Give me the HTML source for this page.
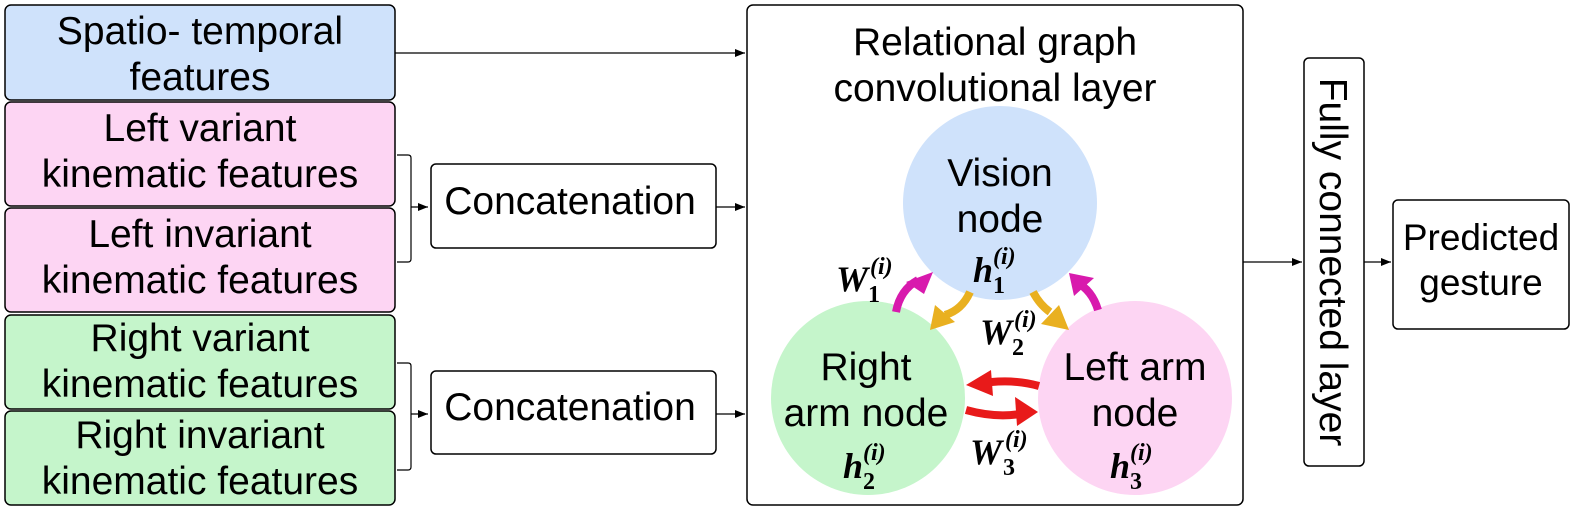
<!DOCTYPE html>
<html><head><meta charset="utf-8"><style>
html,body{margin:0;padding:0;background:#fff}
svg{display:block}
text{font-family:"Liberation Sans",sans-serif;font-size:39px;fill:#000}
.m{font-family:"Liberation Serif",serif;font-weight:bold;font-style:italic;font-size:36px}
.s{font-family:"Liberation Serif",serif;font-weight:bold;font-size:24px}
.si{font-family:"Liberation Serif",serif;font-weight:bold;font-style:italic;font-size:24px}
</style></head><body>
<svg width="1578" height="517" viewBox="0 0 1578 517" xmlns="http://www.w3.org/2000/svg">
<defs>
<marker id="a" markerWidth="10" markerHeight="8" refX="10" refY="4" orient="auto" markerUnits="userSpaceOnUse"><path d="M0,0 L10,4 L0,8z" fill="#000"/></marker>
</defs>
<g stroke="#000" stroke-width="1.5">
<rect x="5" y="5" width="390" height="95" rx="6" fill="#cfe2fb"/>
<rect x="5" y="102" width="390" height="104" rx="6" fill="#fdd5f3"/>
<rect x="5" y="208" width="390" height="104" rx="6" fill="#fdd5f3"/>
<rect x="5" y="315" width="390" height="94" rx="6" fill="#c5f5cb"/>
<rect x="5" y="411" width="390" height="94" rx="6" fill="#c5f5cb"/>
<rect x="431" y="164" width="285" height="84" rx="5" fill="#fff"/>
<rect x="431" y="371" width="285" height="83" rx="5" fill="#fff"/>
<rect x="747" y="5" width="496" height="500" rx="6" fill="#fff"/>
<rect x="1304" y="58" width="60" height="408" rx="5" fill="#fff"/>
<rect x="1393" y="200" width="176" height="129" rx="5" fill="#fff"/>
<g fill="none" stroke-width="1.2">
<path d="M397,155 H408 Q411,155 411,158 V259 Q411,262 408,262 H397"/>
<path d="M397,363 H408 Q411,363 411,366 V467 Q411,470 408,470 H397"/>
<path d="M411,207 H428" marker-end="url(#a)"/>
<path d="M411,414 H428" marker-end="url(#a)"/>
<path d="M716,207 H745" marker-end="url(#a)"/>
<path d="M716,414 H745" marker-end="url(#a)"/>
<path d="M395,53 H745" marker-end="url(#a)"/>
<path d="M1243,262 H1302" marker-end="url(#a)"/>
<path d="M1364,262 H1391" marker-end="url(#a)"/>
</g>
</g>
<circle cx="1000" cy="203" r="97" fill="#cfe2fb"/>
<circle cx="868" cy="398" r="97" fill="#c5f5cb"/>
<circle cx="1135" cy="398" r="97" fill="#fdd5f3"/>
<g fill="none" stroke-width="8">
<path d="M896,312 Q900,290 918,280" stroke="#d81aad"/>
<path d="M1098,310 Q1092,290 1076,282" stroke="#d81aad"/>
<path d="M970,292 Q962,310 945,315" stroke="#e9b020"/>
<path d="M1033,292 Q1040,305 1050,312" stroke="#e9b020"/>
<path d="M1039,386 Q1010,378 978,384" stroke="#e81a1a"/>
<path d="M966,410 Q995,418 1020,414" stroke="#e81a1a"/>
</g>
<path d="M933,272 L924,294 L906,282z" fill="#d81aad"/>
<path d="M1069,273 L1094,278 L1074,296z" fill="#d81aad"/>
<path d="M930,330 L935,305 L955,322z" fill="#e9b020"/>
<path d="M1069,330 L1041,324 L1059,305z" fill="#e9b020"/>
<path d="M966,385 L991,370 L993,396z" fill="#e81a1a"/>
<path d="M1038,412 L1015,397 L1017,426z" fill="#e81a1a"/>
<g text-anchor="middle">
<text x="200" y="44">Spatio- temporal</text>
<text x="200" y="90">features</text>
<text x="200" y="141">Left variant</text>
<text x="200" y="187">kinematic features</text>
<text x="200" y="247">Left invariant</text>
<text x="200" y="293">kinematic features</text>
<text x="200" y="351">Right variant</text>
<text x="200" y="397">kinematic features</text>
<text x="200" y="448">Right invariant</text>
<text x="200" y="494">kinematic features</text>
<text x="570" y="214">Concatenation</text>
<text x="570" y="420">Concatenation</text>
<text x="995" y="55">Relational graph</text>
<text x="995" y="101">convolutional layer</text>
<text x="1000" y="186">Vision</text>
<text x="1000" y="232">node</text>
<text x="866" y="380">Right</text>
<text x="866" y="426">arm node</text>
<text x="1135" y="380">Left arm</text>
<text x="1135" y="426">node</text>
<text x="1481" y="250" style="font-size:37px">Predicted</text>
<text x="1481" y="295" style="font-size:37px">gesture</text>
</g>
<text x="1320" y="262" text-anchor="middle" transform="rotate(90 1320 262)">Fully connected layer</text>
<g>
<text class="m" x="973" y="282">h</text><text class="s" x="993" y="293">1</text><text class="si" x="993" y="264">(i)</text>
<text class="m" x="843" y="478">h</text><text class="s" x="863" y="489">2</text><text class="si" x="863" y="460">(i)</text>
<text class="m" x="1110" y="478">h</text><text class="s" x="1130" y="489">3</text><text class="si" x="1130" y="460">(i)</text>
<text class="m" x="836" y="291">W</text><text class="s" x="868" y="302">1</text><text class="si" x="870" y="274">(i)</text>
<text class="m" x="980" y="344">W</text><text class="s" x="1012" y="355">2</text><text class="si" x="1014" y="327">(i)</text>
<text class="m" x="970" y="464">W</text><text class="s" x="1003" y="475">3</text><text class="si" x="1005" y="447">(i)</text>
</g>
</svg>
</body></html>
